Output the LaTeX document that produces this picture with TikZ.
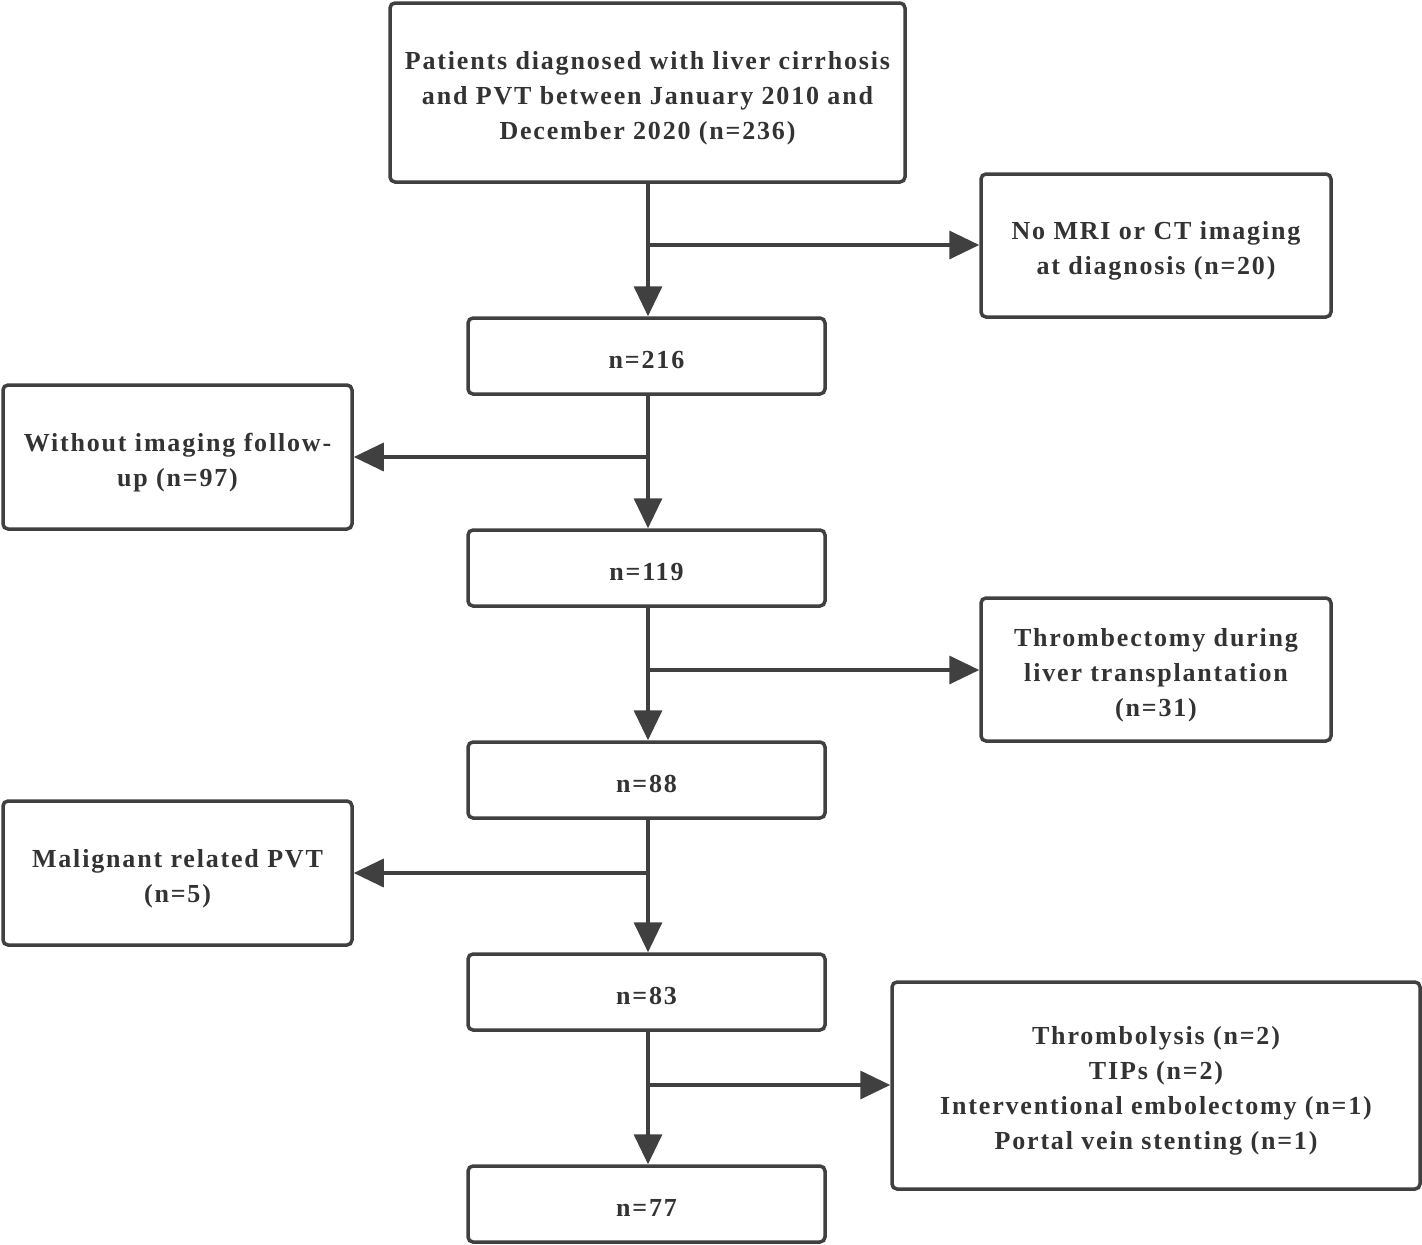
\documentclass[tikz,border=0pt]{standalone}
\usepackage{fontspec}
\setmainfont{Liberation Serif}
\newfontfamily\boxfont[LetterSpace=7]{Liberation Serif}
\usetikzlibrary{arrows.meta}
\definecolor{ln}{HTML}{404040}
\definecolor{tx}{HTML}{333333}
\begin{document}
\begin{tikzpicture}[x=1pt,y=-1pt,
  box/.style={draw=ln,line width=3.5pt,rounded corners=5pt,fill=white,inner sep=0pt,align=center,text=tx,font=\boxfont\fontsize{26}{35}\selectfont\bfseries,execute at begin node={\rule{0pt}{25pt}}},
  conn/.style={draw=ln,line width=3.5pt},
  arr/.style={conn,-{Triangle[length=30pt,width=28pt]}}]
\useasboundingbox (0,0) rectangle (1422,1245);
\node[box,minimum width=515pt,minimum height=179pt] (top) at (647.5,92.5) {\rule{0pt}{29pt}Patients diagnosed with liver cirrhosis\\and PVT between January 2010 and\\December 2020 (n=236)};
\node[box,minimum width=350pt,minimum height=143pt] (r1) at (1156,245.5) {\rule{0pt}{29pt}No MRI or CT imaging\\at diagnosis (n=20)};
\node[box,minimum width=357pt,minimum height=76pt] (n216) at (646.5,356) {n=216};
\node[box,minimum width=349pt,minimum height=144pt] (l1) at (177.5,457) {\rule{0pt}{29pt}Without imaging follow-\\up (n=97)};
\node[box,minimum width=357pt,minimum height=76pt] (n119) at (646.5,568) {n=119};
\node[box,minimum width=350pt,minimum height=143pt] (r2) at (1156,669.5) {\rule{0pt}{29pt}Thrombectomy during\\liver transplantation\\(n=31)};
\node[box,minimum width=357pt,minimum height=76pt] (n88) at (646.5,780) {n=88};
\node[box,minimum width=349pt,minimum height=144pt] (l2) at (177.5,873) {\rule{0pt}{29pt}Malignant related PVT\\(n=5)};
\node[box,minimum width=357pt,minimum height=76pt] (n83) at (646.5,992) {n=83};
\node[box,minimum width=528pt,minimum height=207pt] (r3) at (1156,1085.5) {\rule{0pt}{29pt}Thrombolysis (n=2)\\TIPs (n=2)\\Interventional embolectomy (n=1)\\Portal vein stenting (n=1)};
\node[box,minimum width=357pt,minimum height=76pt] (n77) at (646.5,1204) {n=77};
% main spine
\draw[arr] (top.south -| 648,0) -- (n216.north -| 648,0);
\draw[arr] (n216.south -| 648,0) -- (n119.north -| 648,0);
\draw[arr] (n119.south -| 648,0) -- (n88.north -| 648,0);
\draw[arr] (n88.south -| 648,0) -- (n83.north -| 648,0);
\draw[arr] (n83.south -| 648,0) -- (n77.north -| 648,0);
% branches
\coordinate (b1) at (648,245);
\coordinate (b2) at (648,457);
\coordinate (b3) at (648,670);
\coordinate (b4) at (648,873);
\coordinate (b5) at (648,1085);
\draw[arr] ([xshift=-1.75pt]b1) -- (b1 -| r1.west);
\draw[arr] ([xshift=1.75pt]b2) -- (b2 -| l1.east);
\draw[arr] ([xshift=-1.75pt]b3) -- (b3 -| r2.west);
\draw[arr] ([xshift=1.75pt]b4) -- (b4 -| l2.east);
\draw[arr] ([xshift=-1.75pt]b5) -- (b5 -| r3.west);
\end{tikzpicture}
\end{document}
